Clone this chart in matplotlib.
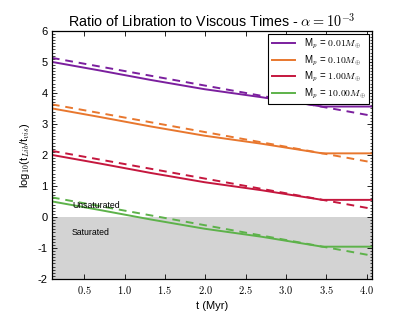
import matplotlib
matplotlib.use("Agg")
import matplotlib.pyplot as plt
from matplotlib.ticker import MultipleLocator, FixedLocator
import numpy as np

plt.rcParams['font.family'] = ['Liberation Sans', 'DejaVu Sans']
plt.rcParams['mathtext.fontset'] = 'cm'

# --- data ---
t_solid = [0.1, 0.7, 1.32, 1.99, 2.7, 3.45, 4.07]
purple_solid = [5.00, 4.72, 4.42, 4.12, 3.86, 3.56, 3.56]
orange_solid = [3.50, 3.22, 2.92, 2.62, 2.36, 2.05, 2.05]
red_solid = [2.00, 1.72, 1.42, 1.12, 0.86, 0.55, 0.55]
green_solid = [0.50, 0.22, -0.08, -0.38, -0.64, -0.96, -0.96]

t_dash = [0.1, 4.07]
purple_dash = [5.13, 3.26]
orange_dash = [3.63, 1.76]
red_dash = [2.13, 0.26]
green_dash = [0.63, -1.25]

labels = [r'M$_p$ = $0.01M_{\oplus}$', r'M$_p$ = $0.10M_{\oplus}$',
          r'M$_p$ = $1.00M_{\oplus}$', r'M$_p$ = $10.00M_{\oplus}$']
colors = ['#7b1f9e', '#e8772e', '#c5173e', '#5db24a']
xticks = [0.5, 1.0, 1.5, 2.0, 2.5, 3.0, 3.5, 4.0]
yticks = [-2, -1, 0, 1, 2, 3, 4, 5, 6]

fig = plt.figure(figsize=(4.15, 3.12), dpi=100)
ax = fig.add_axes([0.125, 0.106, 0.772, 0.795])

ax.axhspan(-2, 0, color='#d3d3d3', zorder=0, lw=0)

solids = [purple_solid, orange_solid, red_solid, green_solid]
dashes = [purple_dash, orange_dash, red_dash, green_dash]
for s, d, c, lab in zip(solids, dashes, colors, labels):
    ax.plot(t_solid, s, color=c, lw=1.4, label=lab)
    ax.plot(t_dash, d, color=c, lw=1.4, ls=(0, (4, 3)))

ax.text(0.35, 0.36, 'Unsaturated', fontsize=6.3, va='center', ha='left')
ax.text(0.35, -0.49, 'Saturated', fontsize=6.3, va='center', ha='left')

ax.set_xlim(0.1, 4.07)
ax.set_ylim(-2, 6)
ax.xaxis.set_major_locator(FixedLocator(xticks))
ax.set_xticklabels([r'$%.1f$' % v for v in xticks])
ax.yaxis.set_major_locator(FixedLocator(yticks))
ax.set_yticklabels(['%d' % v for v in yticks])
ax.yaxis.set_minor_locator(MultipleLocator(0.1))
ax.tick_params(which='both', direction='in', top=True, right=True)
ax.tick_params(axis='x', labelsize=7.5, pad=4)
ax.tick_params(axis='y', labelsize=8, pad=3)
ax.tick_params(which='major', length=3.5, width=0.6)
ax.tick_params(which='minor', length=1.8, width=0.5)
for sp in ax.spines.values():
    sp.set_linewidth(0.9)

ax.set_xlabel('t (Myr)', fontsize=8, labelpad=3)
ax.set_ylabel(r'log$_{10}$(t$_{Lib}$/t$_{vis}$)', fontsize=8, labelpad=4)
ax.set_title(r'Ratio of Libration to Viscous Times - $\alpha = 10^{-3}$', fontsize=10.3, pad=3)

leg = ax.legend(loc='upper right', fontsize=7, frameon=True, fancybox=False,
                edgecolor='black', framealpha=1, borderaxespad=0.3,
                handlelength=2.4, labelspacing=0.22, borderpad=0.35, handletextpad=0.9)
leg.get_frame().set_linewidth(0.8)

fig.savefig('out.png', dpi=100)
